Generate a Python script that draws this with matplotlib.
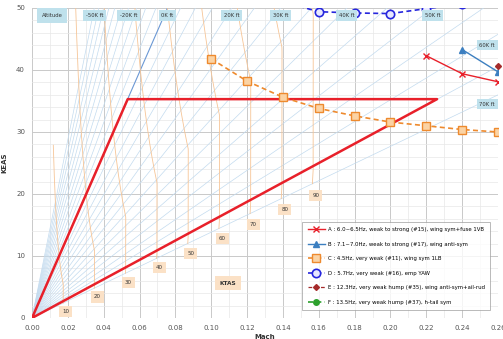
import numpy as np
import matplotlib
matplotlib.use("Agg")
import matplotlib.pyplot as plt
from matplotlib.ticker import MultipleLocator, FormatStrFormatter

plt.rcParams['font.family'] = ['DejaVu Sans']

# ---- flutter test points (Mach, KEAS) ----
a_mach = [0.22, 0.24, 0.26]
a_keas = [42.3, 39.4, 38.1]
b_mach = [0.24, 0.26]
b_keas = [43.3, 39.7]
c_mach = [0.10, 0.12, 0.14, 0.16, 0.18, 0.20, 0.22, 0.24, 0.26]
c_keas = [41.8, 38.2, 35.6, 33.8, 32.6, 31.6, 31.0, 30.4, 30.0]
d_mach = [0.14, 0.16, 0.18, 0.20, 0.22, 0.24]
d_keas = [51.0, 49.4, 49.2, 49.1, 49.9, 50.6]
e_mach = [0.26]
e_keas = [40.6]
f_mach = []
f_keas = []

legend_labels = [
    "A : 6.0~6.5Hz, weak to strong (#15), wing sym+fuse 1VB",
    "B : 7.1~7.0Hz, weak to strong (#17), wing anti-sym",
    "C : 4.5Hz, very weak (#11), wing sym 1LB",
    "D : 5.7Hz, very weak (#16), emp YAW",
    "E : 12.3Hz, very weak hump (#35), wing anti-sym+ail-rud",
    "F : 13.5Hz, very weak hump (#37), h-tail sym",
]

# flight envelope
env_mach = [0.0, 0.0534, 0.226, 0.0]
env_keas = [0.0, 35.3, 35.3, 0.0]

# reference grid: altitude lines (ft) and true airspeed lines (kt)
alt_lines_ft = list(range(-50000, 70001, 5000))
alt_labels_ft = [-50000, -20000, 0, 20000, 30000, 40000, 50000]
alt_labels_side_ft = [60000, 70000]
ktas_lines = [10, 20, 30, 40, 50, 60, 70, 80, 90]

A0 = 661.47  # sea-level speed of sound, kt


def atmosphere(h_ft):
    """ISA temperature and pressure ratios."""
    h = np.asarray(h_ft, dtype=float) * 0.3048
    theta = np.empty_like(h)
    delta = np.empty_like(h)
    lo = h <= 11000
    mid = (h > 11000) & (h <= 20000)
    hi = h > 20000
    T = 288.15 - 0.0065 * h[lo]
    theta[lo] = T / 288.15
    delta[lo] = theta[lo] ** 5.25588
    theta[mid] = 216.65 / 288.15
    delta[mid] = 0.22336 * np.exp(-(h[mid] - 11000) / 6341.6)
    T = 216.65 + 0.001 * (h[hi] - 20000)
    theta[hi] = T / 288.15
    delta[hi] = 0.05403 * (T / 216.65) ** (-34.1632)
    return theta, delta


fig = plt.figure(figsize=(5.03, 3.39), dpi=100)
ax = fig.add_axes([32 / 503, 21 / 339, 466 / 503, 310 / 339])
ax.set_xlim(0, 0.26)
ax.set_ylim(0, 50)

ax.xaxis.set_major_locator(MultipleLocator(0.02))
ax.xaxis.set_minor_locator(MultipleLocator(0.01))
ax.yaxis.set_major_locator(MultipleLocator(10))
ax.yaxis.set_minor_locator(MultipleLocator(2))
ax.grid(which='major', color='#c9c9c9', lw=0.7, zorder=0)
ax.grid(which='minor', color='#e8e8e8', lw=0.5, zorder=0)
ax.set_axisbelow(True)
ax.tick_params(which='both', length=0, labelsize=5, colors='#555555', pad=5)
ax.xaxis.set_major_formatter(FormatStrFormatter('%.2f'))
for s in ax.spines.values():
    s.set_visible(False)

# altitude lines: KEAS = M * a0 * sqrt(delta)
mach_span = np.array([0.0, 0.3])
for h in alt_lines_ft:
    _, d = atmosphere([h])
    col = '#6b98d4' if h == 0 else '#c3dbef'
    lw = 0.8 if h == 0 else 0.5
    ax.plot(mach_span, mach_span * A0 * np.sqrt(d[0]), color=col, lw=lw, zorder=1)

# constant true airspeed lines
hs = np.linspace(-90000, 70000, 500)
th, de = atmosphere(hs)
for v in ktas_lines:
    m = v / (A0 * np.sqrt(th))
    k = v * np.sqrt(de / th)
    ax.plot(m, k, color='#f6c597', lw=0.6, zorder=1)

# envelope
ax.plot(env_mach, env_keas, color='#e8202a', lw=1.8, zorder=3)

# test points
ax.plot(a_mach, a_keas, color='#e8202a', lw=1.0, marker='x', ms=5, mew=1.0,
        label=legend_labels[0], zorder=4)
ax.plot(b_mach, b_keas, color='#3c7fc0', lw=1.0, marker='^', ms=4,
        label=legend_labels[1], zorder=4)
ax.plot(c_mach, c_keas, color='#ee8a2e', lw=1.2, ls=(0, (3, 2)), marker='s', ms=6,
        mfc='#fbd3a4', mec='#ee8a2e', mew=1.0, label=legend_labels[2], zorder=4)
ax.plot(d_mach, d_keas, color='#2626dd', lw=1.2, ls=(0, (3, 2)), marker='o', ms=6,
        mfc='#e8e8ff', mec='#2626dd', mew=1.2, label=legend_labels[3], zorder=4)
ax.plot(e_mach, e_keas, color='#a52a2a', lw=0.9, ls=(0, (3, 2)), marker='D', ms=3,
        label=legend_labels[4], zorder=4, clip_on=False)
ax.plot(f_mach, f_keas, color='#2ca02c', lw=1.2, ls=(0, (3, 2)), marker='o', ms=4,
        label=legend_labels[5], zorder=4)

# altitude tags
alt_box = dict(boxstyle='square,pad=0.5', fc='#bfe1ec', ec='none')
ax.text(0.0112, 48.8, 'Altitude', fontsize=3.8, ha='center', va='center',
        color='#333333', bbox=dict(boxstyle='square,pad=0.9', fc='#bfe1ec', ec='none'),
        zorder=6)
for h in alt_labels_ft:
    _, d = atmosphere([h])
    m = 50.0 / (A0 * np.sqrt(d[0]))
    ax.text(m, 48.8, f'{h // 1000}K ft', fontsize=3.8, ha='center', va='center',
            color='#333333', bbox=alt_box, zorder=6)
for h in alt_labels_side_ft:
    _, d = atmosphere([h])
    k = 0.254 * A0 * np.sqrt(d[0])
    ax.text(0.254, k - 0.7, f'{h // 1000}K ft', fontsize=3.8, ha='center',
            va='center', color='#333333', bbox=alt_box, zorder=6)

# true airspeed tags
ktas_box = dict(boxstyle='square,pad=0.55', fc='#fbe1c6', ec='none')
a_strat = A0 * np.sqrt(216.65 / 288.15)
for v in ktas_lines:
    ax.text(v / a_strat + 0.0015, 0.2345 * v - 1.3, str(v), fontsize=4,
            ha='center', va='center', color='#333333', bbox=ktas_box, zorder=6)
ax.text(0.1094, 5.6, 'KTAS', fontsize=4.2, ha='center', va='center',
        color='#333333', fontweight='bold',
        bbox=dict(boxstyle='square,pad=0.8', fc='#fbe1c6', ec='none'), zorder=6)

ax.set_xlabel('Mach', fontsize=5, fontweight='bold', color='#333333', labelpad=2)
ax.set_ylabel('KEAS', fontsize=5, fontweight='bold', color='#333333', labelpad=6)

leg = ax.legend(loc='lower right', bbox_to_anchor=(0.983, 0.026), fontsize=3.9,
                frameon=True, fancybox=False, edgecolor='#9a9a9a',
                labelspacing=1.75, handlelength=3.2, borderpad=1.0,
                handletextpad=0.5, borderaxespad=0)
leg.get_frame().set_linewidth(0.6)
leg.set_zorder(8)

fig.savefig('out.png', dpi=100)
